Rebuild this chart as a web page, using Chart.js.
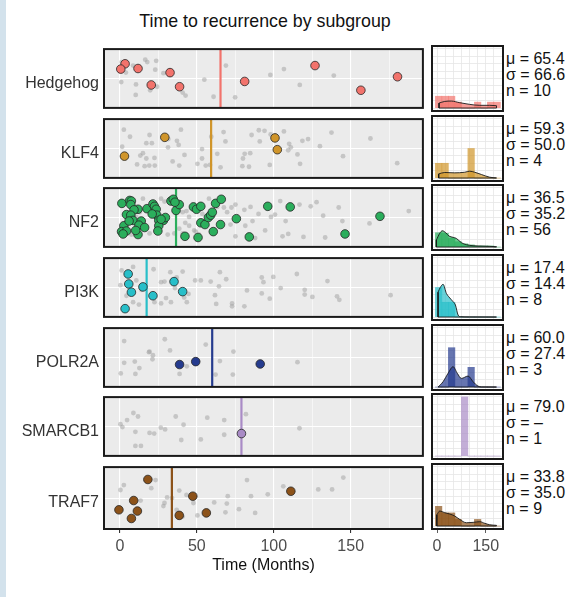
<!DOCTYPE html>
<html>
<head>
<meta charset="utf-8">
<script src="https://cdn.jsdelivr.net/npm/chart.js@4.4.1/dist/chart.umd.min.js"></script>
<style>
  body { margin: 0; width: 572px; height: 597px; position: relative; background: #fff; overflow: hidden;
         font-family: "Liberation Sans", Arial, sans-serif; }
  #strip { position: absolute; left: 0; top: 0; width: 6px; height: 597px; background: #d3e2ec; }
  #title { position: absolute; left: 104px; width: 322px; top: 11px; text-align: center;
           font-size: 17.8px; line-height: 20px; color: #111; }
  canvas { position: absolute; }
  .stat { position: absolute; left: 506px; font-size: 16px; line-height: 16px; color: #111; white-space: pre; }
</style>
</head>
<body>
<div id="strip"></div>
<div id="title">Time to recurrence by subgroup</div>
<script>
// subgroups, in panel order
const groups = ['Hedgehog', 'KLF4', 'NF2', 'PI3K', 'POLR2A', 'SMARCB1', 'TRAF7'];
const groupColors = ['#F2736C', '#D0952A', '#2BAE5C', '#28BFC9', '#253B8E', '#A98BC6', '#8C5219'];
const meanMonths = [65.4, 59.3, 36.5, 17.4, 60.0, 79.0, 33.8];
const sdMonths = ['66.6', '50.0', '35.2', '14.4', '27.4', '–', '35.0'];
const nPatients = [10, 4, 56, 8, 3, 1, 9];
const xTickLabels = [0, 50, 100, 150];
const histTickLabels = [0, 150];

// [months, jitter] for the subgroup's patients
const hedgehogPts = [[3.4,0.75],[0.6,0.66],[11.8,0.67],[32.6,0.60],[20.4,0.39],[38.8,0.36],[81.1,0.45],[126.8,0.72],[156.6,0.30],[180.4,0.53]];
const klf4Pts = [[3.0,0.37],[29.2,0.69],[100.8,0.68],[102.3,0.48]];
const nf2Pts = [[1.3,0.74],[6.4,0.79],[7.5,0.78],[7.1,0.72],[11.8,0.64],[9.2,0.63],[4.3,0.55],[7.1,0.54],[2.6,0.36],[1.1,0.26],[4.3,0.27],[2.1,0.22],[8.6,0.45],[13.9,0.44],[12.4,0.37],[16.1,0.33],[11.8,0.21],[17.6,0.65],[21.5,0.73],[22.5,0.69],[23.6,0.64],[24.0,0.54],[25.3,0.45],[28.3,0.45],[29.6,0.50],[25.3,0.36],[24.7,0.27],[33.2,0.78],[34.7,0.81],[36.5,0.62],[38.6,0.72],[35.8,0.76],[42.3,0.18],[47.8,0.68],[49.8,0.64],[52.6,0.69],[50.8,0.16],[52.6,0.41],[55.3,0.38],[57.5,0.50],[59.0,0.54],[60.1,0.59],[60.7,0.26],[62.2,0.74],[65.9,0.81],[65.4,0.38],[75.7,0.48],[84.1,0.17],[96.1,0.69],[110.7,0.68],[146.3,0.22],[169.0,0.52],[6.0,0.44],[10.3,0.28],[21.0,0.56],[26.8,0.47]];
const pi3kPts = [[5.4,0.73],[5.8,0.56],[7.5,0.42],[15.0,0.51],[21.5,0.36],[35.2,0.60],[40.8,0.43],[3.4,0.14]];
const polr2aPts = [[38.8,0.38],[49.3,0.43],[91.2,0.39]];
const smarcb1Pts = [[79.0,0.38]];
const traf7Pts = [[18.2,0.80],[9.0,0.46],[-0.6,0.31],[11.4,0.29],[7.5,0.17],[38.6,0.22],[47.4,0.53],[56.2,0.26],[111.1,0.61]];

// grey background patients in each panel
const hedgehogOthers = [[1.1,0.78],[3.9,0.60],[8.6,0.72],[16.5,0.82],[17.8,0.78],[23.6,0.80],[23.0,0.65],[28.3,0.59],[0.9,0.44],[10.5,0.40],[19.7,0.30],[24.2,0.36],[10.3,0.22],[40.8,0.26],[42.7,0.21],[54.9,0.48],[60.9,0.19],[68.9,0.72],[74.9,0.18],[97.8,0.56],[106.6,0.66],[116.9,0.39],[139.0,0.55]];
const klf4Others = [[2.6,0.82],[6.6,0.70],[19.3,0.73],[39.7,0.82],[31.5,0.66],[37.1,0.63],[38.2,0.56],[17.2,0.59],[20.8,0.59],[1.5,0.53],[15.0,0.42],[13.3,0.38],[17.2,0.33],[22.5,0.34],[11.2,0.23],[16.1,0.20],[19.1,0.21],[22.7,0.21],[31.3,0.52],[34.3,0.28],[38.6,0.21],[42.0,0.39],[50.4,0.24],[53.4,0.49],[53.4,0.33],[55.8,0.21],[58.6,0.22],[59.4,0.70],[65.4,0.18],[63.3,0.41],[67.4,0.78],[68.6,0.62],[79.6,0.20],[80.0,0.33],[81.1,0.41],[84.7,0.42],[83.9,0.19],[85.6,0.73],[90.3,0.81],[90.9,0.62],[94.0,0.80],[97.4,0.22],[98.0,0.74],[106.6,0.79],[110.0,0.58],[109.4,0.47],[111.1,0.52],[115.4,0.40],[117.1,0.24],[118.6,0.63],[122.3,0.66],[130.0,0.54],[137.5,0.77],[145.0,0.37],[162.8,0.67],[180.2,0.25]];
const nf2Others = [[15.0,0.82],[26.8,0.82],[29.0,0.77],[17.2,0.62],[40.8,0.59],[43.3,0.61],[42.5,0.41],[45.0,0.36],[48.3,0.28],[49.3,0.26],[51.5,0.21],[53.6,0.56],[57.9,0.82],[61.1,0.59],[63.3,0.68],[67.6,0.67],[69.7,0.59],[72.5,0.67],[75.1,0.72],[71.9,0.38],[75.1,0.18],[80.9,0.63],[84.9,0.68],[81.5,0.36],[86.2,0.44],[87.9,0.15],[90.1,0.56],[94.4,0.28],[98.2,0.51],[100.8,0.55],[104.2,0.78],[105.7,0.18],[107.7,0.44],[109.4,0.22],[116.7,0.72],[119.3,0.17],[124.0,0.69],[127.8,0.76],[132.1,0.53],[133.4,0.16],[142.2,0.67],[144.6,0.44],[162.2,0.40],[187.7,0.61],[35.4,0.23],[38.6,0.31],[45.0,0.51],[19.3,0.23],[31.1,0.21],[10.7,0.51],[12.9,0.59],[7.5,0.21],[40.8,0.23]];
const pi3kOthers = [[1.1,0.79],[8.6,0.85],[21.9,0.81],[32.8,0.76],[40.8,0.77],[36.9,0.67],[26.8,0.59],[29.0,0.60],[10.7,0.62],[13.9,0.46],[0.4,0.54],[4.3,0.36],[8.6,0.25],[12.4,0.21],[22.5,0.25],[26.8,0.23],[30.0,0.32],[33.2,0.25],[41.8,0.33],[44.6,0.39],[43.5,0.25],[48.9,0.62],[52.6,0.62],[59.0,0.60],[65.0,0.76],[69.1,0.64],[64.4,0.52],[61.8,0.37],[62.6,0.22],[72.9,0.23],[72.9,0.18],[80.9,0.18],[82.6,0.45],[92.2,0.67],[93.3,0.59],[99.7,0.68],[92.2,0.40],[97.4,0.31],[104.5,0.49],[115.0,0.73],[120.1,0.46],[120.1,0.38],[125.1,0.34],[134.9,0.61],[141.1,0.35],[142.6,0.29],[175.9,0.37],[35.8,0.49]];
const polr2aOthers = [[2.8,0.78],[29.2,0.81],[19.3,0.60],[21.5,0.54],[32.6,0.62],[55.8,0.72],[73.8,0.60],[21.2,0.47],[2.8,0.41],[9.7,0.43],[12.7,0.32],[0.6,0.23],[10.1,0.22],[38.8,0.22],[43.5,0.35],[65.0,0.44],[62.2,0.21],[73.4,0.21],[115.4,0.42],[18.9,0.59]];
const smarcb1Others = [[8.8,0.73],[11.8,0.67],[4.7,0.61],[0.4,0.54],[1.7,0.49],[36.3,0.67],[56.8,0.65],[67.8,0.61],[81.9,0.71],[41.4,0.53],[26.6,0.48],[29.4,0.45],[10.1,0.41],[19.3,0.39],[22.3,0.38],[67.8,0.36],[52.6,0.28],[39.9,0.27],[10.1,0.17],[13.7,0.17],[116.7,0.47]];
const traf7Others = [[0.4,0.63],[2.6,0.71],[20.4,0.66],[23.2,0.79],[13.5,0.46],[29.0,0.42],[28.3,0.37],[30.7,0.51],[33.9,0.50],[36.9,0.31],[38.6,0.62],[40.8,0.20],[43.3,0.55],[47.8,0.42],[50.4,0.22],[61.3,0.43],[69.5,0.41],[70.1,0.53],[68.6,0.27],[77.4,0.32],[82.6,0.79],[85.2,0.53],[87.9,0.26],[96.1,0.56],[106.2,0.69],[128.9,0.64],[137.9,0.64],[145.2,0.83]];

// histogram: bin centres (months) and density per bin
const histBins = [5, 25, 45, 65, 85, 105, 125, 145, 165, 185];
const hedgehogHist = [0.01, 0.01, 0.01, 0.005, 0, 0, 0.005, 0, 0.005, 0.005];
const klf4Hist = [0.0125, 0.0125, 0, 0, 0, 0.025, 0, 0, 0, 0];
const nf2Hist = [0.0121, 0.0116, 0.0074, 0.0045, 0.0027, 0.0018, 0.0009, 0.0009, 0.0009, 0];
const pi3kHist = [0.025, 0.0125, 0.0125, 0, 0, 0, 0, 0, 0, 0];
const polr2aHist = [0, 0, 0.0333, 0, 0, 0.0167, 0, 0, 0, 0];
const smarcb1Hist = [0, 0, 0, 0, 0.05, 0, 0, 0, 0, 0];
const traf7Hist = [0.0167, 0.0111, 0.0111, 0.0056, 0, 0, 0.0056, 0, 0, 0];

// density curves [months, density]
const hedgehogDensity = [[6.2,0.0042],[23.7,0.0056],[44.2,0.0059],[70,0.0045],[100.7,0.0031],[131.5,0.0023],[162,0.0023],[183,0.002]];
const klf4Density = [[5.2,0.0035],[23.7,0.0047],[54.5,0.0044],[85,0.0049],[100.7,0.0058],[116,0.0049],[136.6,0.003],[162,0.0007],[183,0.0001]];
const nf2Density = [[-1.9,0.0059],[8.3,0.0116],[16.5,0.0138],[26.8,0.0121],[37,0.0093],[49.4,0.0082],[59.6,0.0073],[75,0.0037],[90.4,0.002],[111,0.0011],[141.7,0.0008],[162,0.0006],[183,0.0003]];
const pi3kDensity = [[3.2,0.021],[10,0.025],[18.6,0.0277],[28.9,0.02],[36,0.0172],[49.4,0.013],[56.6,0.0102],[64.8,0.0017],[72,0.0003],[100,0.0001],[183,0]];
const polr2aDensity = [[3.2,0],[18.6,0.0045],[34,0.0116],[49.4,0.0172],[62.5,0.0116],[75,0.0073],[95.6,0.0093],[111,0.0045],[126,0.0008],[137,0.0001],[183,0]];
const smarcb1Density = [];
const traf7Density = [[-0.6,0.0095],[8.3,0.0127],[23.7,0.0113],[39,0.0102],[54.5,0.0085],[69.9,0.0056],[90.4,0.0028],[111,0.0031],[131.5,0.0037],[147,0.0023],[162,0.0011],[183,0.0006]];

const groupPts = [hedgehogPts, klf4Pts, nf2Pts, pi3kPts, polr2aPts, smarcb1Pts, traf7Pts];
const groupOthers = [hedgehogOthers, klf4Others, nf2Others, pi3kOthers, polr2aOthers, smarcb1Others, traf7Others];
const groupHist = [hedgehogHist, klf4Hist, nf2Hist, pi3kHist, polr2aHist, smarcb1Hist, traf7Hist];
const groupDensity = [hedgehogDensity, klf4Density, nf2Density, pi3kDensity, polr2aDensity, smarcb1Density, traf7Density];

// layout
const panelTops = [46, 116, 185, 255, 325, 394, 464];
const panelH = 65;

Chart.defaults.font.family = '"Liberation Sans", Arial, sans-serif';
Chart.defaults.font.size = 16;

const panelFrame = {
  id: 'panelFrame',
  beforeDraw(chart, args, opts) {
    const { ctx, chartArea: a } = chart;
    ctx.save();
    ctx.fillStyle = opts.fill;
    ctx.fillRect(a.left, a.top, a.width, a.height);
    ctx.restore();
  },
  afterDraw(chart) {
    const { ctx, chartArea: a } = chart;
    ctx.save();
    ctx.strokeStyle = '#1a1a1a';
    ctx.lineWidth = 2;
    ctx.strokeRect(a.left, a.top, a.width, a.height);
    ctx.restore();
  }
};

function addCanvas(left, top, w, h) {
  const c = document.createElement('canvas');
  c.width = w;
  c.height = h;
  c.style.left = left + 'px';
  c.style.top = top + 'px';
  document.body.appendChild(c);
  return c;
}

function withAlpha(hex, a) {
  const n = parseInt(hex.slice(1), 16);
  return `rgba(${n >> 16}, ${(n >> 8) & 255}, ${n & 255}, ${a})`;
}

const toXY = p => ({ x: p[0], y: p[1] });
const hidden = 'rgba(0,0,0,0)';

function mainChart(i) {
  const last = i === groups.length - 1;
  const axisH = last ? 46 : 0;
  const canvas = addCanvas(0, panelTops[i] - 2, 428, panelH + 4 + axisH);
  new Chart(canvas, {
    type: 'scatter',
    data: {
      datasets: [
        {
          data: groupPts[i].map(toXY),
          pointRadius: 4.3,
          pointBackgroundColor: groupColors[i],
          pointBorderColor: '#262626',
          pointBorderWidth: 0.8,
          order: 0
        },
        {
          data: [{ x: meanMonths[i], y: 0 }, { x: meanMonths[i], y: 1 }],
          showLine: true,
          borderColor: groupColors[i],
          borderWidth: 2.2,
          pointRadius: 0,
          order: 1
        },
        {
          data: groupOthers[i].map(toXY),
          pointRadius: 2.4,
          pointBackgroundColor: 'rgba(160,160,160,0.5)',
          pointBorderWidth: 0,
          order: 2
        }
      ]
    },
    options: {
      responsive: false,
      animation: false,
      events: [],
      layout: { padding: { top: 2, right: 2, bottom: 2, left: 0 } },
      plugins: { legend: { display: false }, tooltip: { enabled: false }, panelFrame: { fill: '#ebebeb' } },
      scales: {
        x: {
          type: 'linear',
          min: -10.3,
          max: 196.9,
          border: { display: false },
          ticks: {
            stepSize: 25,
            includeBounds: false,
            display: last,
            autoSkip: false,
            maxRotation: 0,
            padding: 4,
            color: '#4d4d4d',
            callback: v => xTickLabels.includes(v) ? v : ''
          },
          grid: {
            color: '#ffffff',
            lineWidth: c => c.tick && c.tick.value % 50 === 0 ? 1.1 : 0.55,
            drawTicks: last,
            tickLength: 4,
            tickColor: c => c.tick && xTickLabels.includes(c.tick.value) ? '#333' : hidden
          },
          title: { display: last, text: 'Time (Months)', color: '#111', padding: 0 },
          afterFit: s => { s.height = axisH; s.paddingLeft = 0; s.paddingRight = 0; }
        },
        y: {
          min: 0,
          max: 1,
          border: { display: false },
          ticks: {
            stepSize: 0.5,
            padding: 1,
            labelOffset: 5,
            color: '#333',
            callback: v => v === 0.5 ? groups[i] : ''
          },
          grid: {
            color: c => c.tick && c.tick.value === 0.5 ? '#ffffff' : hidden,
            lineWidth: 1.1,
            tickLength: 4,
            tickColor: hidden
          },
          afterFit: s => { s.width = 104; s.paddingTop = 0; s.paddingBottom = 0; }
        }
      }
    },
    plugins: [panelFrame]
  });
}

function histChart(i) {
  const last = i === groups.length - 1;
  const axisH = last ? 28 : 0;
  const canvas = addCanvas(430, panelTops[i] - 2, 75, panelH + 4 + axisH);
  const dens = groupDensity[i];
  const datasets = [{
    type: 'bar',
    data: histBins.map((b, k) => ({ x: b, y: groupHist[i][k] })),
    backgroundColor: withAlpha(groupColors[i], 0.7),
    borderWidth: 0,
    barPercentage: 1,
    categoryPercentage: 1,
    order: 2
  }];
  if (dens.length) {
    const first = dens[0], end = dens[dens.length - 1];
    datasets.push({
      type: 'line',
      data: dens.map(toXY),
      fill: 'origin',
      backgroundColor: withAlpha(groupColors[i], 0.7),
      borderColor: '#1a1a1a',
      borderWidth: 0.9,
      pointRadius: 0,
      cubicInterpolationMode: 'monotone',
      order: 1
    });
    // closing edges of the density polygon
    datasets.push({
      type: 'line',
      data: [{ x: first[0], y: first[1] }, { x: first[0], y: 0 }, { x: end[0], y: 0 }, { x: end[0], y: end[1] }],
      fill: false,
      borderColor: '#1a1a1a',
      borderWidth: 0.9,
      pointRadius: 0,
      order: 0
    });
  }
  new Chart(canvas, {
    type: 'bar',
    data: { datasets },
    options: {
      responsive: false,
      animation: false,
      events: [],
      layout: { padding: 2 },
      plugins: { legend: { display: false }, tooltip: { enabled: false }, panelFrame: { fill: '#ffffff' } },
      scales: {
        x: {
          type: 'linear',
          min: -15.4,
          max: 203,
          offset: false,
          border: { display: false },
          ticks: {
            stepSize: 25,
            includeBounds: false,
            display: last,
            autoSkip: false,
            maxRotation: 0,
            padding: 4,
            color: '#4d4d4d',
            callback: v => histTickLabels.includes(v) ? v : ''
          },
          grid: {
            offset: false,
            color: '#e6e6e6',
            lineWidth: 0.8,
            drawTicks: last,
            tickLength: 4,
            tickColor: c => c.tick && histTickLabels.includes(c.tick.value) ? '#333' : hidden
          },
          afterFit: s => { s.height = axisH; s.paddingLeft = 0; s.paddingRight = 0; }
        },
        y: {
          min: -0.0025,
          max: 0.0525,
          border: { display: false },
          ticks: { stepSize: 0.00625, includeBounds: false, display: false },
          grid: { color: '#e6e6e6', lineWidth: 0.8, drawTicks: false },
          afterFit: s => { s.width = 0; s.paddingTop = 0; s.paddingBottom = 0; }
        }
      }
    },
    plugins: [panelFrame]
  });
}

groups.forEach((g, i) => {
  mainChart(i);
  histChart(i);
  const stat = document.createElement('div');
  stat.className = 'stat';
  stat.style.top = (panelTops[i] + 5) + 'px';
  stat.textContent = `μ = ${meanMonths[i].toFixed(1)}\nσ = ${sdMonths[i]}\nn = ${nPatients[i]}`;
  document.body.appendChild(stat);
});
</script>
</body>
</html>
